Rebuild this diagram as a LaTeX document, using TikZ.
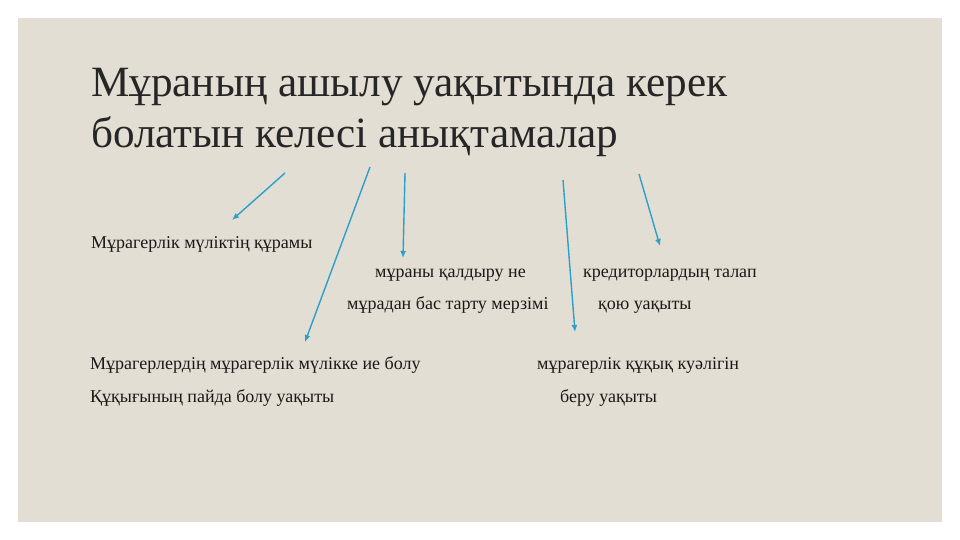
\documentclass[tikz,border=0pt]{standalone}
\usepackage{fontspec}
\setmainfont{Liberation Serif}
\usetikzlibrary{arrows.meta}

\definecolor{slidebg}{HTML}{E2DED3}
\definecolor{arrowblue}{HTML}{2BA0CB}

\begin{document}
\begin{tikzpicture}[
            x=1pt, y=-1pt,
            heading/.style={anchor=base west, inner sep=0pt, font=\fontsize{43.2}{43.2}\selectfont, text=black!85},
            item/.style={anchor=base west, inner sep=0pt, font=\fontsize{18}{18}\selectfont, text=black!90},
            pointer/.style={draw=arrowblue, line width=1.4pt, -{Latex[length=7pt,width=6pt]}}
            ]
            \useasboundingbox (0,0) rectangle (960,540);
            \fill[slidebg] (18,18) rectangle (942,522);
            % title
            \node[heading] (title1) at (91,97) {Мұраның ашылу уақытында керек};
            \node[heading] (title2) at (91,148) {болатын келесі анықтамалар};
            % items
            \node[item] (compos) at (91,248) {Мұрагерлік мүліктің құрамы};
            \node[item] (term1) at (375,277) {мұраны қалдыру не};
            \node[item] (term2) at (347,309) {мұрадан бас тарту мерзімі};
            \node[item] (cred1) at (583,277) {кредиторлардың талап};
            \node[item] (cred2) at (598,309) {қою уақыты};
            \node[item] (heir1) at (90,369) {Мұрагерлердің мұрагерлік мүлікке ие болу};
            \node[item] (heir2) at (90,402) {Құқығының пайда болу уақыты};
            \node[item] (cert1) at (537,369) {мұрагерлік құқық куәлігін};
            \node[item] (cert2) at (560,402) {беру уақыты};
            % arrow ends
            \coordinate (a1s) at (285,173); \coordinate (a1e) at (232,220);
            \coordinate (a2s) at (370,167); \coordinate (a2e) at (305,342);
            \coordinate (a3s) at (405,173); \coordinate (a3e) at (403,258);
            \coordinate (a4s) at (563,180); \coordinate (a4e) at (575,332);
            \coordinate (a5s) at (639,174); \coordinate (a5e) at (660,246);
            \foreach \i in {1,...,5}
                \draw[pointer] (a\i s) -- (a\i e);
        \end{tikzpicture}
\end{document}
